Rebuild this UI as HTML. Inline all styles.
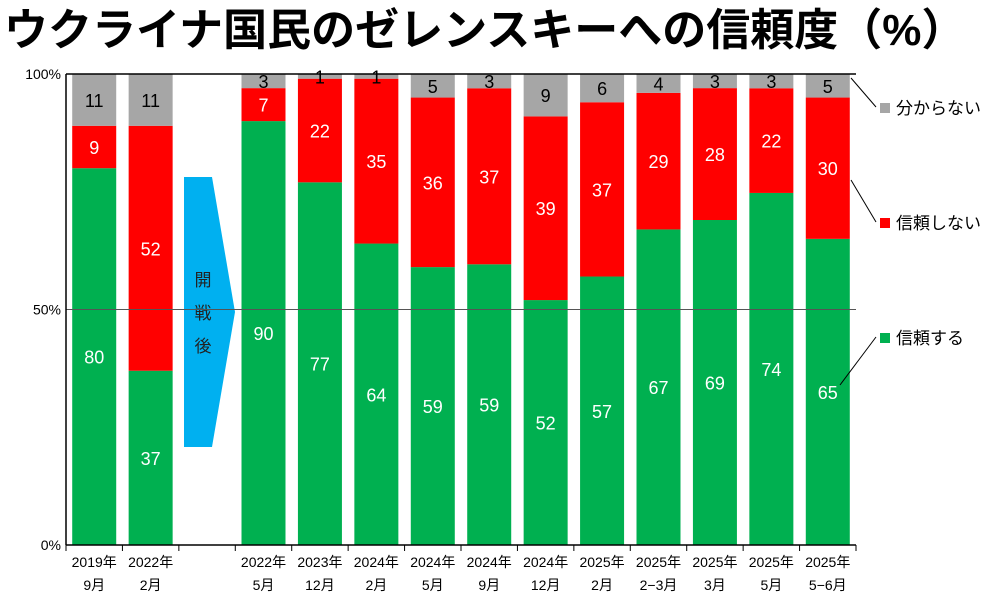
<!DOCTYPE html>
<html><head><meta charset="utf-8"><style>
body{margin:0;background:#fff;width:1000px;height:599px;overflow:hidden;font-family:"Liberation Sans","Noto Sans CJK JP",sans-serif}
</style></head><body>
<div style="position:absolute;left:4px;top:-6px;font-size:44px;font-weight:bold;font-family:'Liberation Sans','Noto Sans CJK JP',sans-serif;white-space:nowrap;">ウクライナ国民のゼレンスキーへの信頼度（%）</div>
<svg id="c" width="1000" height="599" style="position:absolute;left:0;top:0"></svg>
<script>
const cats1=["2019年","2022年","","2022年","2023年","2024年","2024年","2024年","2024年","2025年","2025年","2025年","2025年","2025年"];
const cats2=["9月","2月","","5月","12月","2月","5月","9月","12月","2月","2−3月","3月","5月","5−6月"];
const trust=[80,37,null,90,77,64,59,59,52,57,67,69,74,65];
const distrust=[9,52,null,7,22,35,36,37,39,37,29,28,22,30];
const unknown=[11,11,null,3,1,1,5,3,9,6,4,3,3,5];
const yTicks=[0,50,100];
const NS="http://www.w3.org/2000/svg",svg=document.getElementById('c');
const L=66,R=856,T=74,B=545,slot=(R-L)/cats1.length,bw=44;
const y=v=>B-(B-T)*v/100, x=i=>L+slot*i+slot/2;
function mk(t,a,p){const e=document.createElementNS(NS,t);for(const k in a)e.setAttribute(k,a[k]);(p||svg).appendChild(e);return e;}
function txt(s,a){const e=mk('text',Object.assign({'font-family':'Liberation Sans, Noto Sans CJK JP, sans-serif','text-anchor':'middle'},a));e.textContent=s;return e;}
const ar=mk('polygon',{points:"184,177 212,177 235,312 212,447 184,447",fill:"#00B0F0"});

["開","戦","後"].forEach((c,i)=>{const t=txt(c,{x:203,y:286+i*33,'font-size':17,fill:'#222'});});
trust.forEach((g,i)=>{
  if(g===null)return;
  const r=distrust[i],u=unknown[i],x0=x(i)-bw/2,s=100/(g+r+u);
  const segs=[[0,g*s,'#00B050','#fff','trust'],[g*s,(g+r)*s,'#FF0000','#fff','distrust'],[(g+r)*s,100,'#A6A6A6','#000','unknown']];
  segs.forEach(([a,b,col,tc,nm],k)=>{
    const top=Math.max(y(b),T);
    const rc=mk('rect',{x:x0,y:top,width:bw,height:y(a)-top,fill:col});
    
    const v=[g,r,u][k];
    const t=txt(v,{x:x(i),y:(top+y(a))/2+7,'font-size':18,fill:tc});
    
  });
});
mk('line',{x1:L,y1:y(50),x2:R,y2:y(50),stroke:'#555','stroke-width':1});
mk('line',{x1:L,y1:T,x2:R,y2:T,stroke:'#000','stroke-width':1.5});
mk('line',{x1:L,y1:T,x2:L,y2:B,stroke:'#000','stroke-width':1.5});
mk('line',{x1:L,y1:B,x2:R,y2:B,stroke:'#000','stroke-width':1.5});
for(let i=0;i<=cats1.length;i++)mk('line',{x1:L+slot*i,y1:B,x2:L+slot*i,y2:B+6,stroke:'#000'});
yTicks.forEach(v=>{const t=txt(v+'%',{x:L-5,y:y(v)+5,'font-size':14,'text-anchor':'end'});});
cats1.forEach((c,i)=>{
  const a=txt(c,{x:x(i),y:B+22,'font-size':14});
  const b=txt(cats2[i],{x:x(i),y:B+45,'font-size':14});
});
const leg=[["分からない","#A6A6A6",115,[851,78]],["信頼しない","#FF0000",230,[851,180]],["信頼する","#00B050",345,[840,385]]];
leg.forEach(([s,c,yy,p])=>{
  mk('line',{x1:p[0],y1:p[1],x2:876,y2:yy-8,stroke:'#000'});
  const r=mk('rect',{x:880,y:yy-12,width:10,height:10,fill:c});
  const t=txt(s,{x:896,y:yy-1,'font-size':17,'text-anchor':'start'});
});
</script>
</body></html>
